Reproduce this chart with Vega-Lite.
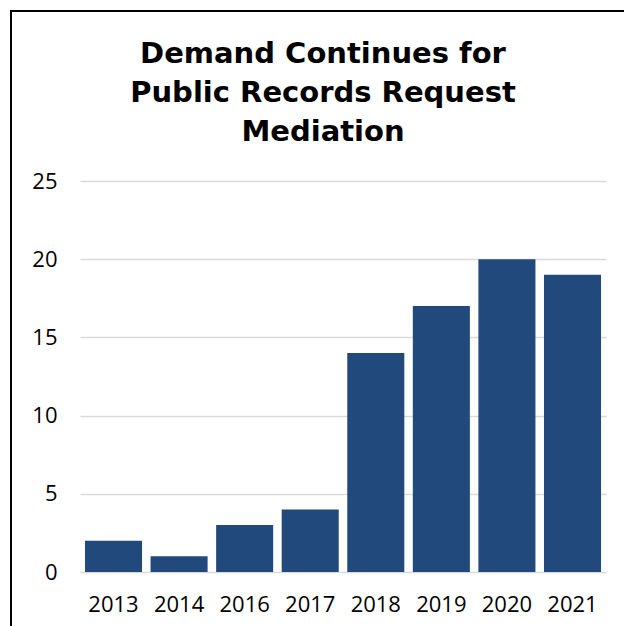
{
  "$schema": "https://vega.github.io/schema/vega-lite/v6.json",
  "autosize": {"type": "fit", "contains": "padding"},
  "width": 624,
  "height": 626,
  "padding": {"left": 11, "top": 11, "right": -5, "bottom": -5},
  "title": {
    "text": ["Demand Continues for", "Public Records Request", "Mediation"],
    "font": "DejaVu Sans",
    "fontSize": 29,
    "fontWeight": "bold",
    "color": "#000000",
    "lineHeight": 39,
    "anchor": "middle",
    "frame": "group",
    "baseline": "alphabetic",
    "offset": -159,
    "dx": 3
  },
  "data": {
    "values": [
      {"year": "2013", "requests": 2},
      {"year": "2014", "requests": 1},
      {"year": "2016", "requests": 3},
      {"year": "2017", "requests": 4},
      {"year": "2018", "requests": 14},
      {"year": "2019", "requests": 17},
      {"year": "2020", "requests": 20},
      {"year": "2021", "requests": 19}
    ]
  },
  "mark": {"type": "bar", "color": "#22497c"},
  "encoding": {
    "x": {
      "field": "year",
      "type": "nominal",
      "sort": null,
      "scale": {"range": [69, 595], "paddingInner": 0.13, "paddingOuter": 0.076},
      "axis": {
        "title": null,
        "labelAngle": 0,
        "domain": false,
        "ticks": false,
        "grid": false,
        "offset": -37,
        "labelPadding": 0,
        "labelFont": "Open Sans",
        "labelFontSize": 22,
        "labelColor": "#000000"
      }
    },
    "y": {
      "field": "requests",
      "type": "quantitative",
      "scale": {"domain": [0, 25], "range": [561, 170], "nice": false},
      "axis": {
        "title": null,
        "values": [0, 5, 10, 15, 20, 25],
        "domain": false,
        "ticks": false,
        "grid": true,
        "gridColor": "#d9d9d9",
        "gridWidth": 1.5,
        "offset": -46,
        "labelPadding": 0,
        "labelFont": "Open Sans",
        "labelFontSize": 22,
        "labelColor": "#000000"
      }
    }
  },
  "config": {
    "view": {"stroke": "#000000", "strokeWidth": 2}
  }
}
